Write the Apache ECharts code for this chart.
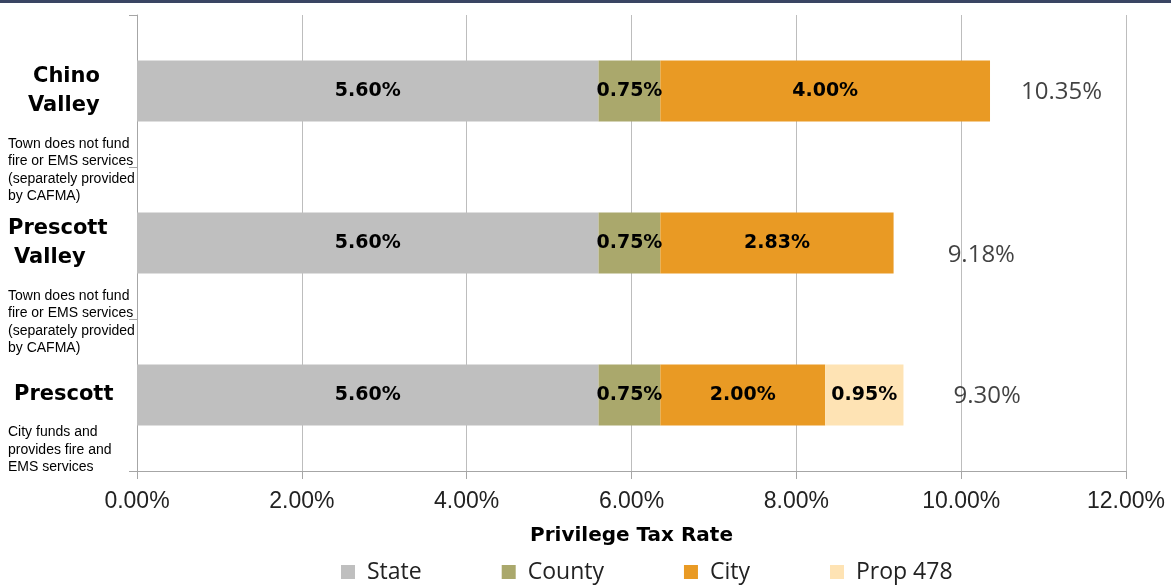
<!DOCTYPE html>
<html>
<head>
<meta charset="utf-8">
<script src="https://cdn.jsdelivr.net/npm/echarts@6/dist/echarts.min.js"></script>
<style>
  html, body { margin: 0; padding: 0; background: #ffffff; }
  #chart { width: 1171px; height: 586px; }
</style>
</head>
<body>
<div id="chart"></div>
<script>
// ---- Data ----
const categories = ['Chino Valley', 'Prescott Valley', 'Prescott'];
const categoryNotes = [
  'Town does not fund\nfire or EMS services\n(separately provided\nby CAFMA)',
  'Town does not fund\nfire or EMS services\n(separately provided\nby CAFMA)',
  'City funds and\nprovides fire and\nEMS services'
];
const seriesNames = ['State', 'County', 'City', 'Prop 478'];
const stateRate = [5.60, 5.60, 5.60];
const countyRate = [0.75, 0.75, 0.75];
const cityRate = [4.00, 2.83, 2.00];
const prop478Rate = ['-', '-', 0.95];
const totalRate = [10.35, 9.18, 9.30];
const xMin = 0, xMax = 12, xStep = 2;
const xAxisTitle = 'Privilege Tax Rate';

// ---- Styles ----
const colors = ['#BFBFBF', '#AAA86C', '#E99A24', '#FEE3B4'];
const nameIndents = [[25, 20], [0, 6], [6]];
const padStyles = ['p2', 'p2', 'p1'];
const totalOffsets = [[31, 1], [54, 12], [50, 1]];

const chart = echarts.init(document.getElementById('chart'), null, { renderer: 'canvas' });

const barLabel = {
  show: true,
  position: 'inside',
  fontFamily: 'DejaVu Sans',
  fontWeight: 'bold',
  fontSize: 19,
  color: '#000000',
  formatter: p => Number(p.value).toFixed(2) + '%'
};

const valueSets = [stateRate, countyRate, cityRate, prop478Rate];
const barSeries = seriesNames.map((name, i) => ({
  name: name,
  type: 'bar',
  stack: 'total',
  barWidth: '40%',
  data: valueSets[i],
  itemStyle: { color: colors[i] },
  label: barLabel,
  emphasis: { disabled: true }
}));

const totalSeries = {
  name: 'Total',
  type: 'scatter',
  symbolSize: 0.1,
  itemStyle: { color: 'transparent' },
  silent: true,
  data: totalRate.map((v, i) => ({
    value: [v, i],
    label: { offset: totalOffsets[i] }
  })),
  label: {
    show: true,
    position: 'right',
    distance: 0,
    fontFamily: 'Open Sans',
    fontWeight: 'normal',
    fontSize: 24,
    color: '#111111',
    formatter: p => p.value[0].toFixed(2) + '%'
  }
};

// rich styles for the category name lines, one per indent
const richStyles = {
  p2: { fontSize: 1, lineHeight: 85, height: 85 },
  p1: { fontSize: 1, lineHeight: 66, height: 66 },
  sp: { fontSize: 1, lineHeight: 15, height: 15 },
  d: {
    fontFamily: 'Liberation Sans, Arial, sans-serif', fontSize: 14,
    lineHeight: 17.5, color: '#000000', width: 127, align: 'left'
  }
};
nameIndents.flat().forEach(k => {
  richStyles['n' + k] = {
    fontFamily: 'DejaVu Sans', fontWeight: 'bold', fontSize: 21,
    lineHeight: 29, color: '#000000', width: 127 - k, align: 'left',
    padding: [0, 0, 0, k]
  };
});

const option = {
  animation: false,
  backgroundColor: '#ffffff',
  color: colors,
  graphic: [{
    type: 'rect',
    left: 0, top: 0,
    shape: { width: 1171, height: 3 },
    style: { fill: '#3A4563' },
    silent: true
  }],
  grid: {
    left: 137, right: 45, top: 15, bottom: 115,
    containLabel: false,
    outerBoundsMode: 'none'
  },
  legend: {
    data: seriesNames,
    left: 336,
    top: 554,
    itemWidth: 14,
    itemHeight: 14,
    itemGap: 80,
    icon: 'rect',
    selectedMode: false,
    textStyle: {
      fontFamily: 'Open Sans',
      fontSize: 23,
      color: '#222222',
      lineHeight: 26,
      padding: [0, 0, 0, 7]
    }
  },
  xAxis: {
    type: 'value',
    min: xMin,
    max: xMax,
    interval: xStep,
    name: xAxisTitle,
    nameLocation: 'middle',
    nameGap: 55,
    nameTextStyle: {
      fontFamily: 'DejaVu Sans',
      fontWeight: 'bold',
      fontSize: 20,
      color: '#000000'
    },
    axisLine: { show: true, lineStyle: { color: '#A6A6A6', width: 1 } },
    axisTick: { show: true, length: 8, lineStyle: { color: '#A6A6A6' } },
    splitLine: { show: true, lineStyle: { color: '#BDBDBD', width: 1 } },
    axisLabel: {
      margin: 19,
      fontFamily: 'Liberation Sans, Arial, sans-serif',
      fontSize: 23,
      color: '#222222',
      formatter: v => v.toFixed(2) + '%'
    }
  },
  yAxis: {
    type: 'category',
    inverse: true,
    data: categories,
    axisLine: { show: true, lineStyle: { color: '#A6A6A6', width: 1 } },
    axisTick: { show: true, length: 8, alignWithLabel: false, lineStyle: { color: '#A6A6A6' } },
    splitLine: { show: false },
    axisLabel: {
      interval: 0,
      margin: 2,
      align: 'right',
      verticalAlign: 'middle',
      formatter: (value, index) => {
        const words = value.split(' ');
        const indents = nameIndents[index];
        const nameLines = words.map((w, k) => `{n${indents[k]}|${w}}`).join('\n');
        const noteLines = categoryNotes[index].split('\n').map(l => `{d|${l}}`).join('\n');
        return `{${padStyles[index]}| }\n` + nameLines + '\n{sp| }\n' + noteLines;
      },
      rich: richStyles
    }
  },
  series: barSeries.concat([totalSeries])
};

chart.setOption(option);
</script>
</body>
</html>
